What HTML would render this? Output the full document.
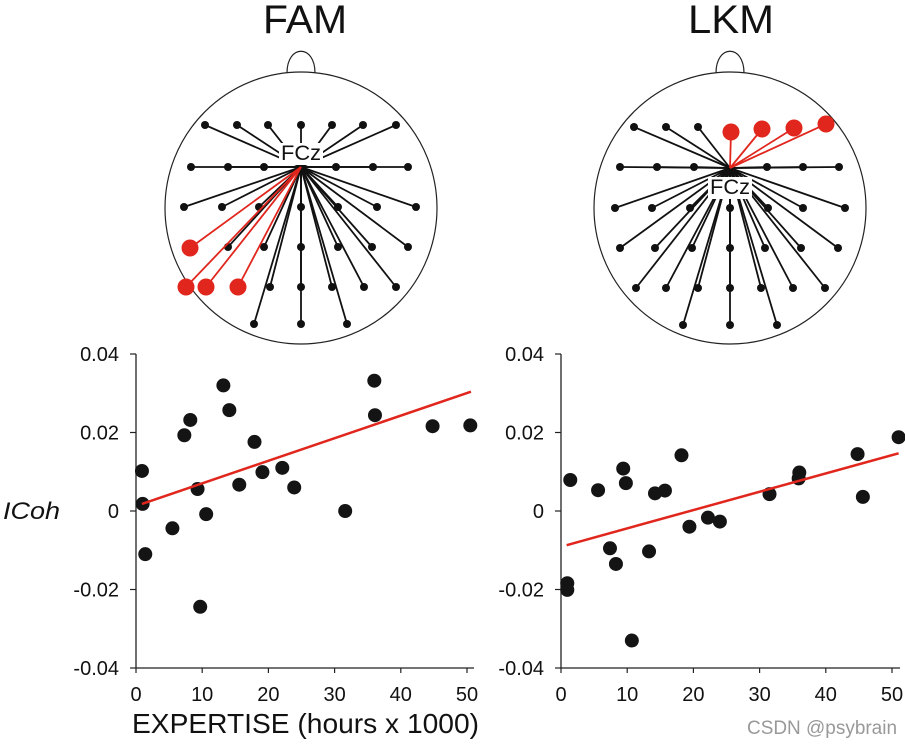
<!DOCTYPE html>
<html><head><meta charset="utf-8"><style>
html,body{margin:0;padding:0;background:#fff;}
svg{display:block;font-family:"Liberation Sans",Arial,sans-serif;}
</style></head><body>
<svg id="fig" width="905" height="747" viewBox="0 0 905 747" xmlns="http://www.w3.org/2000/svg">
<text x="305" y="33" font-size="40" text-anchor="middle" textLength="84" lengthAdjust="spacingAndGlyphs" fill="#111">FAM</text>
<text x="731" y="33" font-size="40" text-anchor="middle" textLength="86" lengthAdjust="spacingAndGlyphs" fill="#111">LKM</text>
<text x="3" y="519" font-size="24" font-style="italic" textLength="57" lengthAdjust="spacingAndGlyphs" fill="#111">ICoh</text>
<text x="132" y="733" font-size="28" textLength="347" lengthAdjust="spacingAndGlyphs" fill="#111">EXPERTISE (hours x 1000)</text>
<text x="747" y="734" font-size="19" textLength="150" lengthAdjust="spacingAndGlyphs" fill="#999">CSDN @psybrain</text>
<g id="heads"></g>
<g id="plots"></g>
</svg>
<script>
const NS='http://www.w3.org/2000/svg';
function mk(tag,attrs,parent){const e=document.createElementNS(NS,tag);for(const k in attrs)e.setAttribute(k,attrs[k]);parent.appendChild(e);return e;}

// ---------- Scatter data ----------
const famX=[0.9,1.0,1.4,5.5,7.3,8.2,9.3,9.7,10.6,13.2,14.1,15.6,17.9,19.1,22.1,23.9,31.6,36.0,36.1,44.8,50.5];
const famY=[0.0102,0.0018,-0.011,-0.0044,0.0193,0.0232,0.0056,-0.0244,-0.0008,0.032,0.0257,0.0067,0.0176,0.0099,0.011,0.006,0,0.0332,0.0244,0.0216,0.0218];
const famFitX=[0.9,50.6];
const famFitY=[0.0018,0.0304];
const lkmX=[1.4,0.95,0.95,5.6,7.4,8.3,9.4,9.8,10.7,13.3,14.2,15.7,18.2,19.4,22.2,24.0,31.5,36.0,35.9,44.8,45.6,51.0];
const lkmY=[0.0079,-0.0184,-0.0201,0.0053,-0.0095,-0.0135,0.0108,0.0071,-0.033,-0.0103,0.0045,0.0052,0.0142,-0.004,-0.0017,-0.0027,0.0043,0.0098,0.0083,0.0145,0.0036,0.0188];
const lkmFitX=[0.85,51];
const lkmFitY=[-0.0087,0.0147];
const xTicks=[0,10,20,30,40,50];
const yTicks=[0.04,0.02,0,-0.02,-0.04];
const yTickLabels=['0.04','0.02','0','-0.02','-0.04'];

const plotsG=document.getElementById('plots');
function drawPlot(name,x0,xEnd,xs,ys,fx,fy){
  const g=mk('g',{},plotsG);
  
  
  const sx=v=>x0+v*6.62;
  const sy=v=>511-v*3925;
  const ax=mk('path',{d:`M${x0},${sy(0.04)} V${sy(-0.04)} H${xEnd}`,stroke:'#222','stroke-width':1.3,fill:'none'},g);
  
  
  yTicks.forEach((t,i)=>{
    mk('line',{x1:x0-6,x2:x0,y1:sy(t),y2:sy(t),stroke:'#222','stroke-width':1.2},g);
    const tl=mk('text',{x:x0-17,y:sy(t)+7,'font-size':20,'text-anchor':'end',fill:'#111'},g);
    tl.textContent=yTickLabels[i];
    
    
  });
  xTicks.forEach(t=>{
    mk('line',{x1:sx(t),x2:sx(t),y1:668,y2:673,stroke:'#222','stroke-width':1.2},g);
    const tl=mk('text',{x:sx(t),y:701,'font-size':20,'text-anchor':'middle',fill:'#111'},g);
    tl.textContent=String(t);
    
    
  });
  xs.forEach((v,i)=>{
    const c=mk('circle',{cx:sx(v),cy:sy(ys[i]),r:7,fill:'#141414'},g);
    
    
  });
  const l=mk('line',{x1:sx(fx[0]),y1:sy(fy[0]),x2:sx(fx[1]),y2:sy(fy[1]),stroke:'#e0261d','stroke-width':2.5},g);
  
  
}
drawPlot('fam',136,474,famX,famY,famFitX,famFitY);
drawPlot('lkm',561,900,lkmX,lkmY,lkmFitX,lkmFitY);

// ---------- Heads ----------
const headsG=document.getElementById('heads');
const famBlack=[[205,125],[237,125],[268,125],[301,125],[332,125],[363,125],[396,125],
[191,167],[228,167],[264,167],[336,167],[373,167],[408,167],
[184,207],[222,207],[259,207],[301,207],[338,207],[377,207],[416,207],
[228,247],[264,247],[301,247],[338,247],[372,247],[408,247],
[270,287],[301,287],[332,287],[364,287],[396,287],
[254,324],[301,324],[347,324]];
const famRed=[[190,248],[186,287],[206,287],[238,287]];
const lkmBlack=[[634,127],[666,127],[698,127],
[620,167],[657,167],[694,167],[767,167],[803,167],[839,167],
[615,208],[652,208],[690,208],[730,208],[768,208],[803,208],[845,208],
[620,248],[655,248],[692,248],[730,248],[765,248],[801,248],[838,248],
[636,288],[666,288],[698,288],[730,288],[761,288],[793,288],[825,288],
[683,325],[730,325],[777,325]];
const lkmRed=[[731,132],[762,129],[794,128],[826,124]];
function drawHead(name,cx,hub,black,red,labelY){
  const g=mk('g',{},headsG);
  
  
  mk('path',{d:`M${cx-14},73 C${cx-14},44 ${cx+14},44 ${cx+14},73`,fill:'#fff',stroke:'#222','stroke-width':1.2},g);
  mk('circle',{cx:cx,cy:208,r:136,fill:'#fff',stroke:'#222','stroke-width':1.2},g);
  black.forEach(p=>{mk('line',{x1:hub[0],y1:hub[1],x2:p[0],y2:p[1],stroke:'#111','stroke-width':1.8},g);});
  black.forEach(p=>{
    const c=mk('circle',{cx:p[0],cy:p[1],r:4,fill:'#111'},g);
    
    
  });
  red.forEach(p=>{mk('line',{x1:hub[0],y1:hub[1],x2:p[0],y2:p[1],stroke:'#e0261d','stroke-width':1.8},g);});
  red.forEach(p=>{
    const c=mk('circle',{cx:p[0],cy:p[1],r:8.5,fill:'#e0261d'},g);
    
    
  });
  mk('rect',{x:cx-22,y:labelY-17,width:44,height:22,fill:'#fff'},g);
  const t=mk('text',{x:cx,y:labelY,'font-size':21,'text-anchor':'middle',fill:'#111',textLength:40,lengthAdjust:'spacingAndGlyphs'},g);
  t.textContent='FCz';
  
  
}
drawHead('fam',301,[301,167],famBlack,famRed,160);
drawHead('lkm',730,[730,168],lkmBlack,lkmRed,194);
</script>
</body></html>
